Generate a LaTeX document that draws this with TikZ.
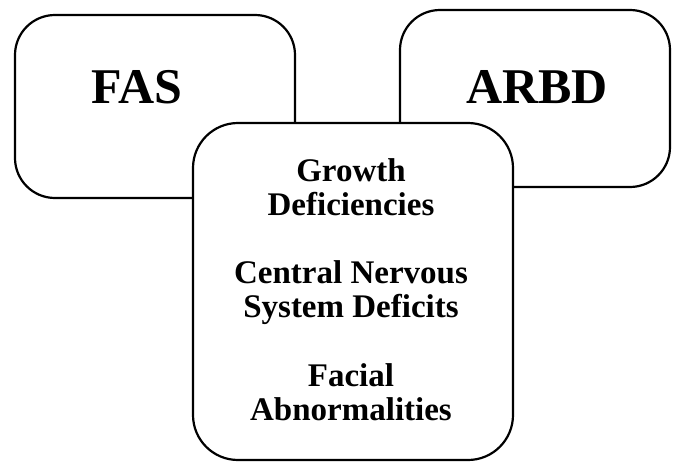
\documentclass[tikz,border=0pt]{standalone}
\usepackage{fontspec}
\setmainfont{Liberation Serif}
\usepackage{tikz}
\usetikzlibrary{positioning}

\begin{document}
\begin{tikzpicture}[
x=1pt, y=-1pt,
box/.style={draw, line width=2.2pt, rounded corners=40pt, fill=white, inner sep=0pt},
title/.style={font=\fontsize{50}{54}\selectfont\bfseries, anchor=base},
item/.style={font=\fontsize{33}{34}\selectfont\bfseries, align=center}
]
\useasboundingbox (0,0) rectangle (673,463);

% Outer boxes
\node[box, minimum width=280pt, minimum height=183pt] (fasbox) at (155,106.5) {};
\node[box, minimum width=270pt, minimum height=177pt] (arbdbox) at (535,98.5) {};

\node[title] (fas) at (137,103) {FAS};
\node[title] (arbd) at (537,103) {ARBD};

% Shared features, drawn on top
\node[box, rounded corners=45pt, minimum width=320pt, minimum height=337pt] (shared) at (353,291.5) {};

\node[item] (growth) at (351,187) {Growth\\Deficiencies};
\node[item] (cns) at (351,293) {Central Nervous\\System Deficits};
\node[item] (facial) at (351,392) {Facial\\Abnormalities};

\end{tikzpicture}
\end{document}
